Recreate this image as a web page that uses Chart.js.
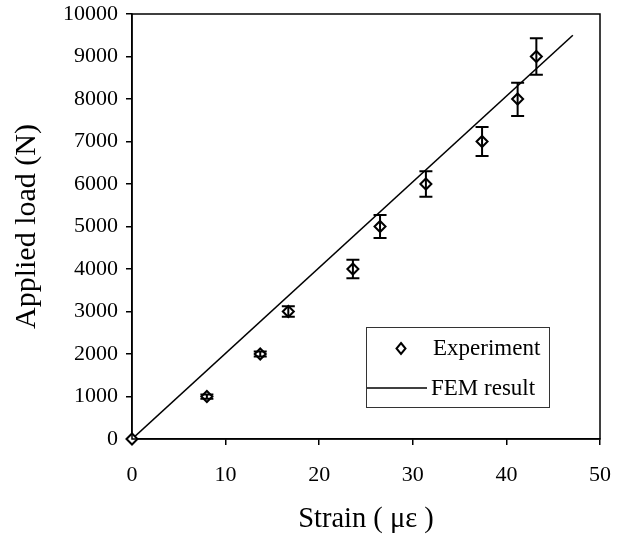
<!DOCTYPE html>
<html>
<head>
<meta charset="utf-8">
<script src="https://cdn.jsdelivr.net/npm/chart.js@4.4.1/dist/chart.umd.min.js"></script>
<style>
  html, body { margin: 0; padding: 0; background: #fff; }
  #wrap { width: 629px; height: 543px; }
</style>
</head>
<body>
<div id="wrap"><canvas id="myChart" width="629" height="543"></canvas></div>
<script>
// experiment: strain (micro-strain) vs applied load (N)
let strainValues = [0, 8.0, 13.7, 16.7, 23.6, 26.5, 31.4, 37.4, 41.2, 43.2];
let loadValues = [0, 1000, 2000, 3000, 4000, 5000, 6000, 7000, 8000, 9000];
let errUp = [0, 50, 60, 125, 220, 270, 300, 340, 380, 430];
let errDown = [0, 50, 60, 125, 220, 270, 300, 340, 400, 430];

// FEM result line
let femStrain = [0, 47.1];
let femLoad = [0, 9500];

let xTicks = [0, 10, 20, 30, 40, 50];
let yTicks = [0, 1000, 2000, 3000, 4000, 5000, 6000, 7000, 8000, 9000, 10000];

const serif = "'Liberation Serif', 'DejaVu Serif', serif";

// error bars for the experiment points
const errorBars = {
    id: "errorBars",
    afterDatasetsDraw(chart) {
        const ctx = chart.ctx;
        const xs = chart.scales.x, ys = chart.scales.y;
        ctx.save();
        ctx.strokeStyle = "#000";
        ctx.lineWidth = 2;
        for (let i = 0; i < strainValues.length; i++) {
            if (errUp[i] == 0 && errDown[i] == 0) continue;
            const px = xs.getPixelForValue(strainValues[i]);
            const top = ys.getPixelForValue(loadValues[i] + errUp[i]);
            const bot = ys.getPixelForValue(loadValues[i] - errDown[i]);
            ctx.beginPath();
            ctx.moveTo(px, top); ctx.lineTo(px, bot);
            ctx.moveTo(px - 6.5, top); ctx.lineTo(px + 6.5, top);
            ctx.moveTo(px - 6.5, bot); ctx.lineTo(px + 6.5, bot);
            ctx.stroke();
        }
        ctx.restore();
    }
};

// frame round the plot and the boxed legend inside it
const frameAndLegend = {
    id: "frameAndLegend",
    afterDraw(chart) {
        const ctx = chart.ctx;
        const a = chart.chartArea;
        ctx.save();
        ctx.strokeStyle = "#000";
        ctx.lineWidth = 1.5;
        ctx.strokeRect(a.left, a.top, a.right - a.left, a.bottom - a.top);

        // legend box
        const lx = 366, ly = 327, lw = 183, lh = 80;
        ctx.fillStyle = "#fff";
        ctx.fillRect(lx, ly, lw, lh);
        ctx.lineWidth = 1;
        ctx.strokeStyle = "#333";
        ctx.strokeRect(lx + 0.5, ly + 0.5, lw, lh);

        // diamond marker
        ctx.lineWidth = 2;
        ctx.strokeStyle = "#000";
        ctx.beginPath();
        ctx.moveTo(401, 343); ctx.lineTo(405.5, 348.5);
        ctx.lineTo(401, 354); ctx.lineTo(396.5, 348.5);
        ctx.closePath();
        ctx.stroke();
        // line sample
        ctx.lineWidth = 1.5;
        ctx.beginPath();
        ctx.moveTo(367, 388); ctx.lineTo(427, 388);
        ctx.stroke();

        ctx.fillStyle = "#000";
        ctx.font = "23px " + serif;
        ctx.textBaseline = "middle";
        ctx.textAlign = "left";
        ctx.fillText("Experiment", 433, 349);
        ctx.fillText("FEM result", 431, 389);
        ctx.restore();
    }
};

const myChart = new Chart("myChart", {
    type: "scatter",
    data: {
        datasets: [{
            label: "Experiment",
            data: strainValues.map((s, i) => ({ x: s, y: loadValues[i] })),
            pointStyle: "rectRot",
            pointRadius: 5.5,
            pointBackgroundColor: "#fff",
            pointBorderColor: "#000",
            pointBorderWidth: 2,
            showLine: false,
            clip: false
        }, {
            label: "FEM result",
            data: femStrain.map((s, i) => ({ x: s, y: femLoad[i] })),
            showLine: true,
            borderColor: "#000",
            borderWidth: 1.6,
            pointRadius: 0,
            fill: false
        }]
    },
    options: {
        responsive: false,
        animation: false,
        layout: { padding: { top: 14, right: 29, left: 0, bottom: 0 } },
        plugins: {
            legend: { display: false },
            tooltip: { enabled: false }
        },
        scales: {
            x: {
                type: "linear",
                min: 0, max: 50,
                afterBuildTicks: (s) => { s.ticks = xTicks.map(v => ({ value: v })); },
                afterFit: (s) => { s.height = 104; s.paddingLeft = 0; s.paddingRight = 0; },
                border: { display: true, color: "#000", width: 1.5 },
                grid: { drawOnChartArea: false, drawTicks: true, tickLength: 6, color: "#000", lineWidth: 1.5 },
                ticks: {
                    color: "#000", padding: 17, font: { family: serif, size: 22 },
                    callback: (v) => String(v)
                },
                title: {
                    display: true, text: "Strain ( \u03bc\u03b5 )", color: "#000",
                    font: { family: serif, size: 28.5 }, padding: 6
                }
            },
            y: {
                type: "linear",
                min: 0, max: 10000,
                afterBuildTicks: (s) => { s.ticks = yTicks.map(v => ({ value: v })); },
                afterFit: (s) => { s.width = 132; s.paddingTop = 0; s.paddingBottom = 0; },
                border: { display: true, color: "#000", width: 1.5 },
                grid: { drawOnChartArea: false, drawTicks: true, tickLength: 6, color: "#000", lineWidth: 1.5 },
                ticks: {
                    color: "#000", padding: 8, font: { family: serif, size: 22 },
                    callback: (v) => String(v)
                },
                title: {
                    display: true, text: "Applied load (N)", color: "#000",
                    font: { family: serif, size: 30 }, padding: 9
                }
            }
        }
    },
    plugins: [errorBars, frameAndLegend]
});
</script>
</body>
</html>
